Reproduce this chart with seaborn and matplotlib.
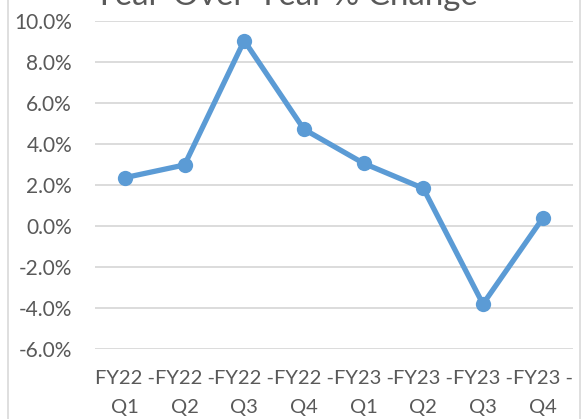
import matplotlib
matplotlib.use("Agg")
import matplotlib.pyplot as plt
from matplotlib.ticker import FuncFormatter, MultipleLocator
from matplotlib.lines import Line2D
import seaborn as sns
import pandas as pd

# Data
quarters = ["FY22 - Q1", "FY22 - Q2", "FY22 - Q3", "FY22 - Q4",
            "FY23 - Q1", "FY23 - Q2", "FY23 - Q3", "FY23 - Q4"]
yoy_change = [2.35, 2.97, 9.03, 4.71, 3.05, 1.83, -3.81, 0.37]
title_text = "Year-Over-Year % Change"

sns.set_style("white")
plt.rcParams["font.family"] = ["Lato", "DejaVu Sans"]

W, H = 582, 419
fig = plt.figure(figsize=(W / 100, H / 100), dpi=100)
ax = fig.add_axes([95 / W, 1 - 349 / H, (572.5 - 95) / W, (349 - 20.7) / H])

df = pd.DataFrame({"quarter": quarters, "change": yoy_change})
sns.lineplot(data=df, x="quarter", y="change", ax=ax, color="#5B9BD5",
             linewidth=3.8, marker="o", markersize=11, markeredgewidth=0,
             zorder=3)

text_color = "#595959"
ax.set_ylim(-6, 10)
ax.set_xlim(-0.5, len(quarters) - 0.5)
ax.yaxis.set_major_locator(MultipleLocator(2))
ax.yaxis.set_major_formatter(FuncFormatter(lambda v, p: f"{v:.1f}%"))
ax.set_xticks(range(len(quarters)))
ax.set_xticklabels([q.replace(" - ", " -\n") for q in quarters], linespacing=1.9)
ax.grid(axis="y", color="#D9D9D9", linewidth=1.3)
ax.grid(axis="x", visible=False)
for s in ax.spines.values():
    s.set_visible(False)
ax.tick_params(axis="y", length=0, pad=16.5, labelsize=15, labelcolor=text_color)
ax.tick_params(axis="x", length=0, pad=15, labelsize=14.5, labelcolor=text_color)
ax.set_xlabel("")
ax.set_ylabel("")

fig.text(286 / W, 1 - 5 / H, title_text, ha="center", va="baseline",
         fontsize=23.8, color=text_color)

# chart-area border (left and right edges visible)
for xpx in (8.3, 580):
    fig.add_artist(Line2D([xpx / W, xpx / W], [0, 1], color="#D9D9D9",
                          linewidth=1.2, transform=fig.transFigure))

fig.savefig("out.png", dpi=100, facecolor="white")
